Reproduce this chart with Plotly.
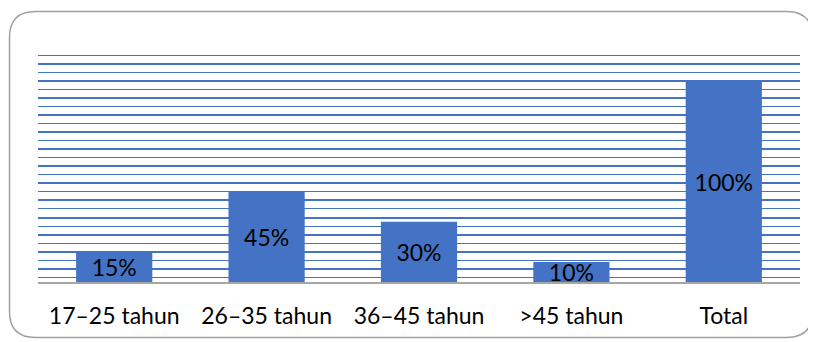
import plotly.graph_objects as go

categories = ["17–25 tahun", "26–35 tahun", "36–45 tahun", ">45 tahun", "Total"]
values = [15, 45, 30, 10, 100]
labels = ["15%", "45%", "30%", "10%", "100%"]

# page body has an 8px margin; the figure is sized/shifted to compensate
OFF = 8
W, H = 816 - OFF, 342 - OFF
L, R, T, B = 38 - OFF, 16, 47 - OFF, 60
pw, ph = W - L - R, H - T - B

def px2paper(x, y):
    x -= OFF
    y -= OFF
    return (x - L) / pw, (H - B - y) / ph

FONT = "Lato, Carlito, Calibri, sans-serif"

fig = go.Figure(go.Bar(
    x=categories, y=values, text=labels,
    marker=dict(color="#4472C4", line=dict(width=0)),
    textposition="inside", insidetextanchor="middle",
    textfont=dict(family=FONT, size=23, color="black"),
    constraintext="none", cliponaxis=False,
))

# rounded border (reference page pixel coords)
x0, y0, x1, y1, r = 9.5, 11.5, 812.5, 337.5, 26
def P(x, y):
    a, b = px2paper(x, y)
    return f"{a:.5f},{b:.5f}"
path = (f"M {P(x0 + r, y0)} L {P(x1 - r, y0)} Q {P(x1, y0)} {P(x1, y0 + r)} "
        f"L {P(x1, y1 - r)} Q {P(x1, y1)} {P(x1 - r, y1)} L {P(x0 + r, y1)} "
        f"Q {P(x0, y1)} {P(x0, y1 - r)} L {P(x0, y0 + r)} Q {P(x0, y0)} {P(x0 + r, y0)} Z")

fig.update_layout(
    width=W, height=H,
    margin=dict(l=L, r=R, t=T, b=B, autoexpand=False),
    paper_bgcolor="white", plot_bgcolor="white",
    bargap=0.5, showlegend=False,
    uniformtext=dict(minsize=23, mode="show"),
    font=dict(family=FONT, color="black"),
    shapes=[dict(type="path", xref="paper", yref="paper", path=path,
                 line=dict(color="#A0A0A0", width=1.5), layer="above")],
)
fig.update_xaxes(
    automargin=False,
    showgrid=False, showline=True, linecolor="#A6A6A6", linewidth=1.5,
    ticks="", tickfont=dict(family=FONT, size=23, color="black"), ticklabelstandoff=13,
)
fig.update_yaxes(
    automargin=False,
    range=[0, 117.1], showticklabels=False, zeroline=False, showline=False,
    tick0=6.6, dtick=8.51, showgrid=True, gridcolor="#4472C4", gridwidth=2.2,
    minor=dict(tick0=2.34, dtick=4.255, showgrid=True, gridcolor="#4472C4", gridwidth=1.2),
)

fig.write_html("out.html")
